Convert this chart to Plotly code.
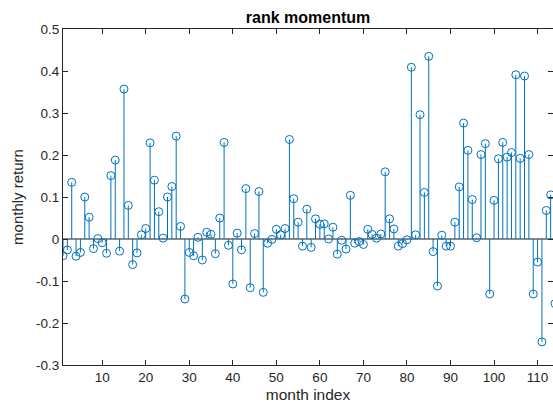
import plotly.graph_objects as go

month_index = list(range(1, 115))
monthly_return = [
    -0.040, -0.026, 0.135, -0.041, -0.032, 0.100, 0.052, -0.023, 0.001, -0.009,
    -0.034, 0.151, 0.188, -0.029, 0.357, 0.080, -0.061, -0.033, 0.010, 0.025,
    0.229, 0.140, 0.065, 0.002, 0.100, 0.125, 0.245, 0.030, -0.143, -0.032,
    -0.040, 0.004, -0.050, 0.016, 0.011, -0.035, 0.050, 0.230, -0.015, -0.107,
    0.014, -0.026, 0.120, -0.116, 0.013, 0.113, -0.127, -0.010, -0.001, 0.023,
    0.010, 0.025, 0.237, 0.096, 0.040, -0.017, 0.071, -0.020, 0.048, 0.035,
    0.036, 0.000, 0.028, -0.036, -0.003, -0.024, 0.104, -0.010, -0.006, -0.013,
    0.023, 0.011, 0.002, 0.012, 0.160, 0.048, 0.024, -0.017, -0.011, -0.002,
    0.409, 0.010, 0.296, 0.111, 0.435, -0.030, -0.112, 0.009, -0.017, -0.017,
    0.040, 0.124, 0.276, 0.211, 0.094, 0.003, 0.201, 0.227, -0.131, 0.092,
    0.191, 0.230, 0.195, 0.206, 0.391, 0.192, 0.388, 0.201, -0.131, -0.055,
    -0.245, 0.068, 0.105, -0.154,
]
x_ticks = [10, 20, 30, 40, 50, 60, 70, 80, 90, 100, 110]
y_ticks = [-0.3, -0.2, -0.1, 0, 0.1, 0.2, 0.3, 0.4, 0.5]
y_tick_text = ["-0.3", "-0.2", "-0.1", "0", "0.1", "0.2", "0.3", "0.4", "0.5"]

STEM = "#0072BD"
AX = "#262626"
FONT = "Liberation Sans, Arial, Helvetica, sans-serif"

stem_x, stem_y = [], []
for xi, yi in zip(month_index, monthly_return):
    stem_x += [xi, xi, None]
    stem_y += [0, yi, None]

fig = go.Figure()
fig.add_trace(go.Scatter(x=stem_x, y=stem_y, mode="lines",
                         line=dict(color=STEM, width=1), hoverinfo="skip",
                         showlegend=False))
fig.add_trace(go.Scatter(x=month_index, y=monthly_return, mode="markers",
                         marker=dict(symbol="circle-open", size=8, color=STEM,
                                     line=dict(width=1, color=STEM)),
                         showlegend=False))
fig.add_trace(go.Scatter(x=[month_index[0]], y=[0], yaxis="y2", mode="markers",
                         marker=dict(opacity=0), hoverinfo="skip", showlegend=False))

fig.update_layout(
    width=553, height=406,
    margin=dict(l=63, r=0, t=29, b=41),
    paper_bgcolor="white", plot_bgcolor="white",
    font=dict(family=FONT, size=13, color=AX),
    title=dict(text="<b>rank momentum</b>", x=0.5, xref="paper", xanchor="center",
               y=1, yref="paper", yanchor="bottom", pad=dict(b=6),
               font=dict(family=FONT, size=16, color="black")),
    xaxis=dict(range=[1, 113.54], tickvals=x_ticks, ticks="inside", ticklen=5,
               tickcolor=AX, showline=True, linecolor=AX, linewidth=1,
               mirror="ticks", showgrid=False, zeroline=False,
               title=dict(text="month index", standoff=4,
                          font=dict(family=FONT, size=15.5, color=AX)),
               tickfont=dict(size=13.5, color=AX)),
    yaxis=dict(range=[-0.3, 0.5], tickvals=y_ticks, ticktext=y_tick_text,
               ticks="inside", ticklen=5, tickcolor=AX, showline=True,
               linecolor=AX, linewidth=1, showgrid=False,
               zeroline=True, zerolinecolor="#8a8a8a", zerolinewidth=2,
               title=dict(text="monthly return", standoff=8,
                          font=dict(family=FONT, size=15, color=AX)),
               tickfont=dict(size=13.5, color=AX)),
    yaxis2=dict(range=[-0.3, 0.5], overlaying="y", side="right",
                tickvals=y_ticks, ticks="inside", ticklen=5, tickcolor=AX,
                showticklabels=False, showline=False, showgrid=False,
                zeroline=False),
)

fig.write_html("out.html")
